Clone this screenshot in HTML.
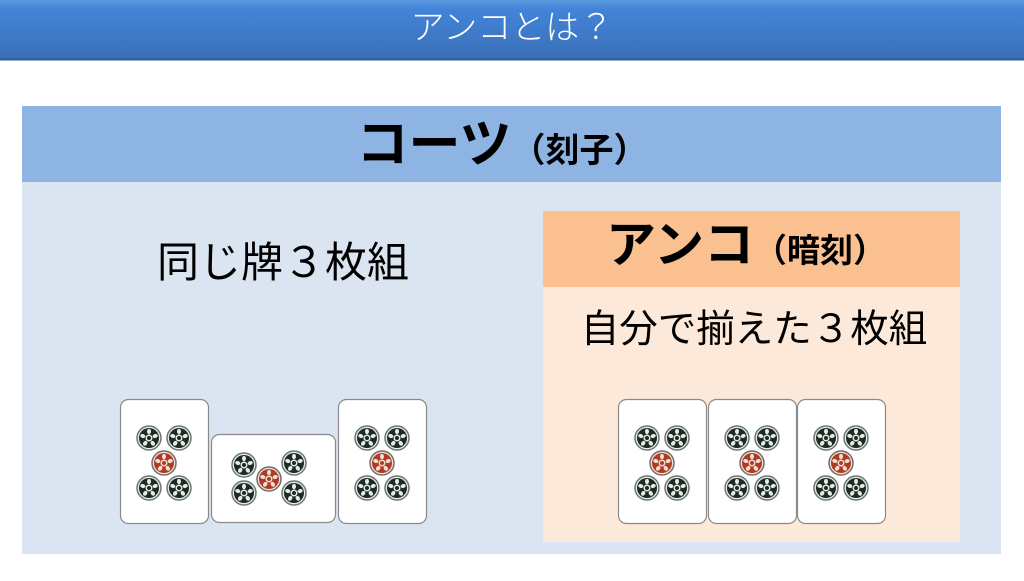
<!DOCTYPE html>
<html><head><meta charset="utf-8"><style>
body{margin:0;width:1024px;height:576px;overflow:hidden;background:#fff;font-family:"Liberation Sans","Noto Sans CJK JP",sans-serif}
</style></head><body>
<svg width="1024" height="576" viewBox="0 0 1024 576" xmlns="http://www.w3.org/2000/svg" font-family="Liberation Sans, Noto Sans CJK JP, sans-serif">
<defs>
<linearGradient id="hg" x1="0" y1="0" x2="0" y2="1">
<stop offset="0" stop-color="#5b9be0"/><stop offset="0.15" stop-color="#4284d8"/><stop offset="1" stop-color="#3a6fb8"/>
</linearGradient>
<g id="pg">
<circle r="12" fill="#e8ece8" stroke="#6b7a72" stroke-width="1.5"/>
<circle r="10" fill="#1e2a24"/>
<circle r="3.5" fill="#e8ece8"/>
<circle r="2" fill="#1e2a24"/>
<g fill="#e8ece8"><ellipse cx="0" cy="-6.5" rx="2" ry="2.6"/><ellipse cx="6.2" cy="-2" rx="2" ry="2.6" transform="rotate(72 6.2 -2)"/><ellipse cx="3.8" cy="5.3" rx="2" ry="2.6" transform="rotate(144 3.8 5.3)"/><ellipse cx="-3.8" cy="5.3" rx="2" ry="2.6" transform="rotate(216 -3.8 5.3)"/><ellipse cx="-6.2" cy="-2" rx="2" ry="2.6" transform="rotate(288 -6.2 -2)"/></g>
</g>
<g id="pr">
<circle r="12" fill="#ece4e0" stroke="#7a6a66" stroke-width="1.5"/>
<circle r="10" fill="#b03a22"/>
<circle r="3.5" fill="#f0e0d8"/>
<circle r="2" fill="#b03a22"/>
<g fill="#f0e0d8"><ellipse cx="0" cy="-6.5" rx="2" ry="2.6"/><ellipse cx="6.2" cy="-2" rx="2" ry="2.6" transform="rotate(72 6.2 -2)"/><ellipse cx="3.8" cy="5.3" rx="2" ry="2.6" transform="rotate(144 3.8 5.3)"/><ellipse cx="-3.8" cy="5.3" rx="2" ry="2.6" transform="rotate(216 -3.8 5.3)"/><ellipse cx="-6.2" cy="-2" rx="2" ry="2.6" transform="rotate(288 -6.2 -2)"/></g>
</g>
<g id="tile">
<rect x="0.5" y="0.5" width="88" height="124" rx="8" fill="#fff" stroke="#8a8a8a" stroke-width="1.2"/>
<use href="#pg" x="29" y="39"/><use href="#pg" x="59" y="39"/>
<use href="#pr" x="44" y="64"/>
<use href="#pg" x="29" y="89"/><use href="#pg" x="59" y="89"/>
</g>
</defs>
<rect x="0" y="0" width="1024" height="60" fill="url(#hg)"/>
<rect x="0" y="58" width="1024" height="3" fill="#2c5590" opacity="0.5"/>
<text x="512" y="39" text-anchor="middle" fill="#fff" font-size="34" font-weight="300">アンコとは？</text>

<rect x="22" y="106" width="979" height="448" fill="#dbe5f1"/>
<rect x="22" y="106" width="979" height="76" fill="#8eb4e3"/>
<text x="502" y="162" text-anchor="middle" font-weight="bold" fill="#000"><tspan font-size="52">コーツ</tspan><tspan font-size="34">（刻子）</tspan></text>
<text x="283" y="277" text-anchor="middle" font-size="42" fill="#000">同じ牌３枚組</text>

<rect x="543" y="211" width="417" height="331" fill="#fde9d9"/>
<rect x="543" y="211" width="417" height="76" fill="#fac090"/>
<text x="746" y="262" text-anchor="middle" font-weight="bold" fill="#000"><tspan font-size="50">アンコ</tspan><tspan font-size="33">（暗刻）</tspan></text>
<text x="754" y="342" text-anchor="middle" font-size="38.5" fill="#000">自分で揃えた３枚組</text>

<use href="#tile" x="120" y="399"/>
<g transform="translate(211,434)">
<rect x="0.5" y="0.5" width="124" height="88" rx="8" fill="#fff" stroke="#8a8a8a" stroke-width="1.2"/>
<use href="#pg" x="33" y="31"/><use href="#pg" x="83" y="29"/>
<use href="#pr" x="58" y="45"/>
<use href="#pg" x="33" y="59"/><use href="#pg" x="83" y="59"/>
</g>
<use href="#tile" x="338" y="399"/>
<use href="#tile" x="618" y="399"/>
<use href="#tile" x="708" y="399"/>
<use href="#tile" x="797" y="399"/>
</svg>
</body></html>
